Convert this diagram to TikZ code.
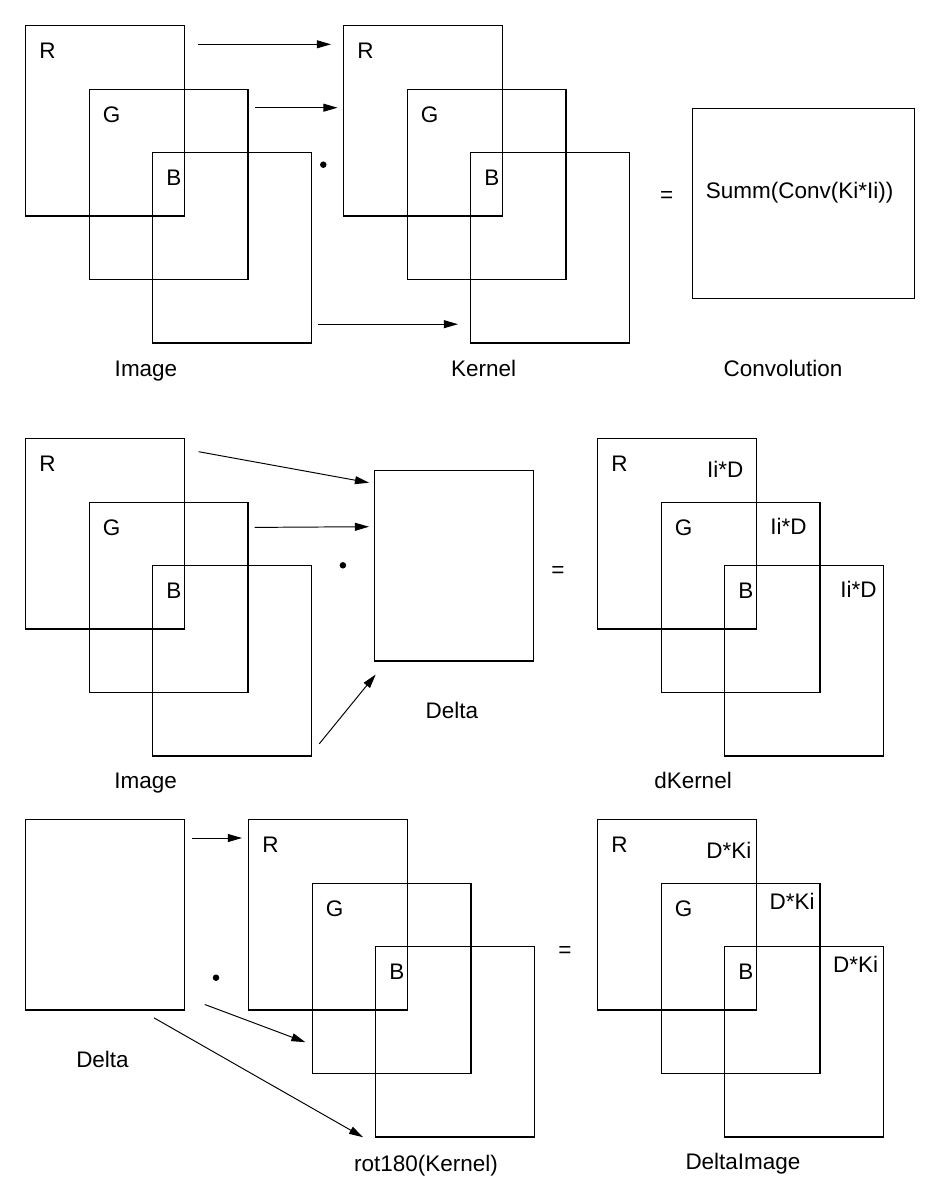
\documentclass[tikz,border=0pt]{standalone}
\usepackage{fontspec}
\setmainfont{Liberation Sans}
\usetikzlibrary{arrows.meta, calc}

\tikzset{
  plane/.style={draw, line width=0.7pt, anchor=north west, inner sep=0pt,
    minimum width=3.18cm, minimum height=3.81cm},
  chan/.style={anchor=base west, inner sep=0pt},
  caption/.style={anchor=base, inner sep=0pt},
  arr/.style={-{Triangle[length=8pt,width=4.5pt]}, line width=0.55pt},
  dotpt/.style={circle, fill, inner sep=0pt, minimum size=0.13cm},
  opsign/.style={inner sep=0pt},
}

% three overlapping channel planes R, G, B
\newcommand{\rgbstack}[3]{%
  \node[plane] (#1R) at (#2,#3) {};
  \node[plane] (#1G) at (#2+63.5,#3+63.7) {};
  \node[plane] (#1B) at (#2+127,#3+127) {};
  \node[chan] (#1Rt) at ([shift={(14,33.5)}]#1R.north west) {R};
  \node[chan] (#1Gt) at ([shift={(14,33.5)}]#1G.north west) {G};
  \node[chan] (#1Bt) at ([shift={(14,33.5)}]#1B.north west) {B};
}

\begin{document}
\begin{tikzpicture}[x=0.02cm, y=-0.02cm, font=\fontsize{12.8pt}{15pt}\selectfont]
  \useasboundingbox (0,0) rectangle (940,1200);

  % forward pass
  \rgbstack{im}{25}{25}
  \rgbstack{k}{343}{25}
  \node[plane, minimum width=4.44cm] (conv) at (692,107.7) {};
  \node[anchor=base west, inner sep=0pt] (convt) at (705.5,198.3) {Summ(Conv(Ki*Ii))};
  \node[dotpt] (dot1) at (323.3,164.7) {};
  \node[opsign] (eq1) at (666.7,196.7) {=};

  \draw[arr] ([shift={(13,19.3)}]imR.north east) -- ([shift={(-12,19.3)}]kR.north west);
  \draw[arr] ([shift={(6.5,19)}]imG.north east) -- ([shift={(-5.5,82.7)}]kR.north west);
  \draw[arr] ([shift={(6,-19.5)}]imB.south east) -- ([shift={(-12,-19.5)}]kB.south west);

  \node[caption] (capim1) at (146,376) {Image};
  \node[caption] (capk1) at (483.7,376) {Kernel};
  \node[caption] (capconv) at (783,376) {Convolution};

  % kernel gradient
  \rgbstack{imb}{25}{438}
  \node[plane] (delta) at (374,470) {};
  \node[dotpt] (dot2) at (342.9,565.3) {};
  \node[opsign] (eq2) at (558,571.7) {=};
  \rgbstack{dk}{597}{438}
  \node[chan] (dkRd) at (706.7,477.3) {Ii*D};
  \node[chan] (dkGd) at (770,534) {Ii*D};
  \node[chan] (dkBd) at (840,597.3) {Ii*D};

  \draw[arr] ([shift={(13.5,13.7)}]imbR.north east) -- ([shift={(-5,12.7)}]delta.north west);
  \draw[arr] ([shift={(6,25.7)}]imbG.north east) -- ([shift={(-5,56.7)}]delta.north west);
  \draw[arr] ([shift={(7,-12.8)}]imbB.south east) -- ([shift={(1.7,12.8)}]delta.south west);

  \node[caption] (capdelta1) at (451.8,718) {Delta};
  \node[caption] (capim2) at (145.7,788) {Image};
  \node[caption] (capdk) at (693,788) {dKernel};

  % image gradient
  \node[plane] (deltab) at (25,819) {};
  \rgbstack{rk}{248}{819}
  \node[dotpt] (dot3) at (216,977.7) {};
  \node[opsign] (eq3) at (565,951.7) {=};
  \rgbstack{di}{597}{819}
  \node[chan] (diRd) at (706,858.7) {D*Ki};
  \node[chan] (diGd) at (769.3,909.3) {D*Ki};
  \node[chan] (diBd) at (832.7,972.7) {D*Ki};

  \draw[arr] ([shift={(6.7,19)}]deltab.north east) -- ([shift={(-6,19)}]rkR.north west);
  \draw[arr] ([shift={(19.6,-6.2)}]deltab.south east) -- ([shift={(-6.1,-32.2)}]rkG.south west);
  \draw[arr] ([shift={(-31.1,7.2)}]deltab.south east) -- ([shift={(-12,-0.5)}]rkB.south west);

  \node[caption] (capdelta2) at (102.5,1067.3) {Delta};
  \node[caption] (caprk) at (426,1171) {rot180(Kernel)};
  \node[caption] (capdi) at (743,1169.5) {DeltaImage};
\end{tikzpicture}
\end{document}
